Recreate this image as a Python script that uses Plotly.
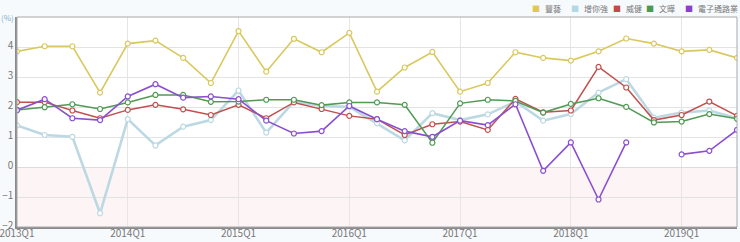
import plotly.graph_objects as go

quarters = [f"{y}Q{q}" for y in range(2013, 2020) for q in range(1, 5)][:27]
x_tick_labels = ["2013Q1", "2014Q1", "2015Q1", "2016Q1", "2017Q1", "2018Q1", "2019Q1"]
y_ticks = [-2, -1, 0, 1, 2, 3, 4]

series_names = ["豐藝", "增你強", "威健", "文曄", "電子通路業"]

fengyi = [3.88, 4.05, 4.05, 2.50, 4.14, 4.24, 3.66, 2.82,
          4.56, 3.20, 4.30, 3.85, 4.50, 2.53, 3.34, 3.86,
          2.53, 2.82, 3.85, 3.66, 3.57, 3.88, 4.31, 4.14,
          3.88, 3.93, 3.66]
zenith = [1.40, 1.08, 1.02, -1.54, 1.61, 0.73, 1.36, 1.58,
          2.57, 1.16, 2.20, 2.05, 2.02, 1.47, 0.90, 1.81,
          1.58, 1.77, 2.20, 1.56, 1.78, 2.50, 2.95, 1.66,
          1.83, 1.90, 1.64]
weikeen = [2.18, 2.18, 1.90, 1.64, 1.92, 2.09, 1.94, 1.75,
           2.09, 1.64, 2.17, 1.95, 1.72, 1.61, 1.08, 1.44,
           1.53, 1.25, 2.29, 1.84, 1.90, 3.36, 2.67, 1.58,
           1.75, 2.20, 1.72]
wpi = [1.92, 2.01, 2.11, 1.95, 2.17, 2.42, 2.42, 2.19,
       2.20, 2.26, 2.26, 2.08, 2.17, 2.17, 2.09, 0.82,
       2.14, 2.26, 2.22, 1.83, 2.12, 2.31, 2.02, 1.50,
       1.53, 1.78, 1.62]
industry = [1.91, 2.28, 1.64, 1.58, 2.37, 2.78, 2.33, 2.37,
            2.28, 1.56, 1.13, 1.21, 2.05, 1.61, 1.21, 1.02,
            1.56, 1.41, 2.11, -0.12, 0.83, -1.08, 0.83, None,
            0.43, 0.55, 1.25]

all_values = [fengyi, zenith, weikeen, wpi, industry]
line_colors = ["#d9c85e", "#bcd9e3", "#c0504d", "#509a54", "#8a4fd0"]
legend_colors = ["#e2c94c", "#b2d8e4", "#c84848", "#4a9a50", "#8a3fd0"]
line_widths = [1.6, 2.6, 1.5, 1.5, 1.6]

W, H = 740, 242
ML, MR, MT, MB = 17, 3, 17, 15
PW = W - ML - MR

fig = go.Figure()

for name, vals, c, w in zip(series_names, all_values, line_colors, line_widths):
    fig.add_trace(go.Scatter(
        x=quarters, y=vals, mode="lines+markers", name=name,
        line=dict(color=c, width=w),
        marker=dict(symbol="circle", size=5, color="white",
                    line=dict(color=c, width=1.2)),
        connectgaps=False, showlegend=False,
    ))

# compact legend built from text (square swatch + label)
legend_square_px = [536, 575, 617, 650, 689]
for name, c, px in zip(series_names, legend_colors, legend_square_px):
    fig.add_annotation(text="■", xref="paper", yref="paper",
                       x=(px - ML) / PW, y=1, xanchor="center", yanchor="middle",
                       yshift=MT - 8, showarrow=False,
                       font=dict(size=8, color=c))
    fig.add_annotation(text=name, xref="paper", yref="paper",
                       x=(px + 7 - ML) / PW, y=1, xanchor="left", yanchor="middle",
                       yshift=MT - 8, showarrow=False,
                       font=dict(size=8, color="#777"))

# pink tint below zero
fig.add_shape(type="rect", xref="x domain", yref="y", x0=0, x1=1, y0=-2, y1=0,
              fillcolor="#fdf4f6", line=dict(width=0), layer="below")
# light border (top/right)
fig.add_shape(type="rect", xref="paper", yref="paper", x0=0, x1=1, y0=0, y1=1,
              line=dict(color="#a8a8a8", width=1), layer="above")

fig.add_annotation(text="(%)", xref="paper", yref="paper", x=0, y=1,
                   xanchor="right", yanchor="middle", xshift=-1, yshift=0,
                   showarrow=False, font=dict(size=8, color="#7fb0c8"))

fig.update_layout(
    width=W, height=H,
    margin=dict(l=ML, r=MR, t=MT, b=MB),
    paper_bgcolor="#f7fafd",
    plot_bgcolor="white",
    showlegend=False,
    font=dict(family="Noto Sans CJK TC, Noto Sans, sans-serif", size=10, color="#666"),
    xaxis=dict(
        type="category", categoryorder="array", categoryarray=quarters,
        range=[0, len(quarters) - 1],
        tickmode="array", tickvals=x_tick_labels, ticktext=x_tick_labels,
        showgrid=True, gridcolor="#e6e6e6", gridwidth=1,
        showline=True, linecolor="#8a8a8a", linewidth=1.5,
        ticks="", tickfont=dict(size=10, color="#777"), zeroline=False,
        automargin=False, ticklabelstandoff=-4,
    ),
    yaxis=dict(
        range=[-2, 5.03], tickmode="array", tickvals=y_ticks,
        showgrid=True, gridcolor="#e3e3e3", gridwidth=1,
        showline=True, linecolor="#8a8a8a", linewidth=1.5,
        zeroline=True, zerolinecolor="#dcdcdc", zerolinewidth=1,
        ticks="", tickfont=dict(size=10, color="#777"),
        automargin=False, ticklabelshift=-2,
    ),
)

fig.write_html("out.html")
